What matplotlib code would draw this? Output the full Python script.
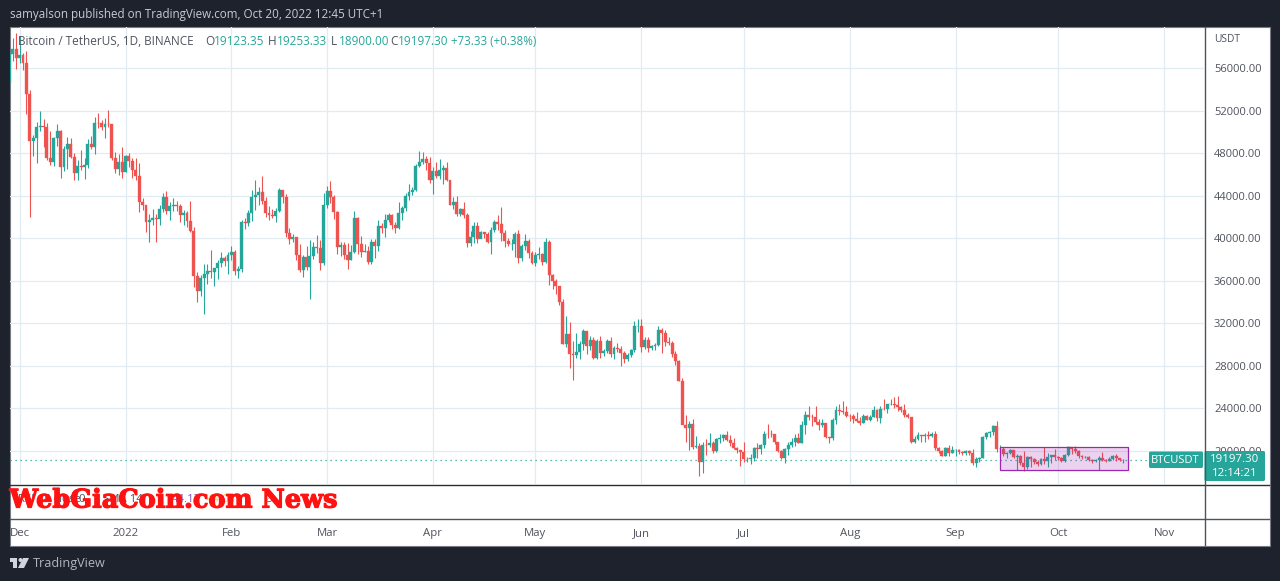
#!/usr/bin/env python3
import numpy as np
import pandas as pd
import matplotlib
matplotlib.use('Agg')
import matplotlib.pyplot as plt
import matplotlib.dates as mdates
import matplotlib.patheffects as pe
from matplotlib.patches import Rectangle, FancyBboxPatch, Polygon, Circle

# Daily candles, one line per month (Nov 28 2021 - Oct 20 2022)
first_open = 54706
closes = [57274, 57776, 56950,
    57184, 56480, 53601, 49152, 49396, 50441, 50588, 50471, 47545, 47140, 49389, 50053, 46702, 48343, 48864, 47632, 46131, 46834, 46681, 46914, 48890, 48588, 50838, 50821, 50429, 50775, 50701, 47543, 46464, 47120, 46216,
    47722, 47286, 46446, 45833, 43431, 43097, 41546, 41678, 41864, 41822, 42729, 43902, 42560, 43059, 43084, 43071, 42201, 42352, 41660, 40680, 36445, 35071, 36244, 36660, 36958, 36809, 37160, 37716, 38166, 37881, 38466,
    38744, 36952, 37154, 41500, 41441, 42406, 43854, 44096, 44388, 43514, 42380, 42217, 42053, 42535, 44544, 43873, 40515, 39974, 40079, 38386, 37008, 38230, 37250, 38328, 39219, 39116, 37699, 43160,
    44421, 43892, 42454, 39148, 39397, 38420, 37988, 38730, 41941, 39422, 38730, 38807, 37777, 39671, 39280, 41114, 40917, 41757, 42201, 41262, 41002, 42364, 42882, 43991, 44313, 44511, 46827, 47122, 47434, 47062, 45510,
    46283, 45811, 46407, 46580, 45497, 43170, 43444, 42252, 42753, 42158, 39530, 40074, 41147, 39942, 40551, 40378, 39678, 40801, 41493, 41358, 40480, 39709, 39441, 39450, 40426, 38112, 39235, 39742, 38596, 37630,
    38468, 38525, 37729, 39690, 36552, 36013, 35472, 34038, 30074, 31017, 29104, 29030, 29284, 30074, 31305, 29862, 30425, 28716, 30296, 29200, 29432, 30294, 29109, 29655, 29542, 29201, 28629, 29031, 29469, 31727, 31793,
    29799, 30467, 29704, 29864, 29919, 31373, 31125, 30205, 30110, 29091, 28424, 26574, 22487, 22136, 22583, 20401, 20468, 18970, 20574, 20573, 20723, 19987, 21110, 21237, 21491, 21038, 20742, 20281, 20123, 19942,
    19279, 19252, 19315, 20236, 20175, 20564, 21624, 21594, 21591, 20862, 19963, 19328, 20212, 20569, 20836, 21190, 20779, 22485, 23389, 23231, 23164, 22714, 22465, 22609, 21361, 21239, 22930, 23843, 23804, 23656, 23303,
    23268, 22987, 22818, 22622, 23312, 22954, 23175, 23810, 23149, 23954, 23934, 24403, 24441, 24305, 24094, 23854, 23342, 23191, 20834, 21140, 21515, 21399, 21529, 21368, 21559, 20241, 19987, 19547, 20285, 19811, 20049,
    20127, 19952, 19832, 19987, 19812, 18837, 19290, 19329, 21361, 21648, 21826, 22395, 20173, 20226, 19701, 19803, 20113, 19416, 19537, 18875, 18461, 19401, 19289, 18920, 18807, 19227, 19079, 19412, 19591, 19422,
    19310, 19056, 19623, 20336, 20160, 19955, 19531, 19417, 19439, 19131, 19060, 19155, 19375, 19176, 19068, 19268, 19549, 19327, 19123.35, 19197.30]
highs = [57445, 58865, 59249,
    59053, 57375, 57600, 53904, 49699, 50891, 51936, 51200, 50797, 50125, 49485, 50777, 50205, 48700, 49500, 49436, 48000, 47360, 48300, 47537, 49328, 49576, 51375, 51810, 51156, 51280, 52088, 50704, 48139, 47900, 48548,
    47827, 47990, 47570, 47505, 47070, 43748, 43145, 42300, 42786, 42248, 43100, 44278, 44400, 43448, 43800, 43475, 43176, 42691, 42575, 43505, 41100, 36835, 36500, 37550, 37545, 38919, 37234, 38000, 38720, 38359, 38744,
    39265, 38855, 37387, 41688, 41913, 42656, 44500, 45492, 44793, 45821, 43920, 43000, 42760, 42876, 44751, 44164, 44200, 40959, 40444, 40126, 39494, 38429, 39249, 39843, 39683, 40300, 39855, 44225,
    44949, 45400, 44100, 42527, 39693, 39680, 39547, 39362, 42594, 42039, 40236, 39486, 39310, 39947, 39887, 41718, 41478, 42325, 42400, 42296, 41544, 43361, 43025, 44220, 45094, 44820, 46999, 48189, 48096, 47700, 47600,
    46720, 47213, 47444, 46890, 47200, 45507, 43900, 43970, 42800, 43410, 42414, 40699, 41561, 41500, 40709, 40595, 40613, 41100, 41760, 42199, 42976, 40798, 39980, 39940, 40616, 40797, 39474, 40372, 39925, 38795,
    38675, 39167, 38651, 40023, 39845, 36677, 36146, 35500, 34243, 32658, 32162, 30343, 31083, 30343, 31460, 31308, 30788, 30700, 30545, 30777, 29588, 30487, 30670, 29827, 30158, 29880, 29396, 29256, 29547, 32222, 32399,
    32387, 30689, 30698, 29998, 30189, 31765, 31589, 31331, 30700, 30350, 29440, 28544, 26900, 23362, 22800, 22995, 21365, 20792, 20815, 21090, 21723, 20900, 21233, 21558, 21614, 21868, 21478, 21188, 20408, 20141,
    20879, 19425, 19681, 20354, 20750, 20675, 21838, 22527, 21954, 21597, 20862, 20059, 20259, 20880, 21200, 21600, 21689, 22777, 23800, 24276, 23442, 24196, 22990, 22998, 22666, 21347, 23100, 24199, 24442, 24668, 24194,
    23509, 23459, 23647, 23223, 23463, 23354, 23400, 24245, 23932, 24226, 24918, 24456, 24888, 25047, 25214, 24247, 24446, 23600, 23203, 21382, 21800, 21522, 21679, 21900, 21819, 21886, 20352, 20141, 20402, 20576, 20490,
    20208, 20188, 20000, 20055, 20055, 20179, 19464, 19458, 21450, 21792, 21860, 22488, 22799, 20543, 20330, 19900, 20173, 20100, 19690, 19634, 19957, 19500, 19500, 19310, 19180, 19318, 20385, 19790, 19645, 20180,
    19484, 19395, 19719, 20475, 20365, 20456, 20057, 19600, 19558, 19525, 19270, 19225, 19509, 19950, 19212, 19424, 19666, 19702, 19350, 19253.33]
lows = [53256, 56666, 55875,
    56458, 55777, 51680, 42000, 47727, 47100, 50039, 48600, 47320, 46852, 46751, 48638, 45672, 46290, 46547, 47511, 45456, 45500, 46406, 45558, 46630, 48421, 47920, 50384, 50171, 49412, 50459, 47313, 46096, 45900, 45678,
    46208, 46654, 45696, 45516, 42500, 42645, 40610, 39650, 41200, 39650, 41268, 42447, 42320, 41725, 42566, 42581, 41540, 41250, 41100, 40553, 35440, 34008, 34601, 32917, 35701, 36234, 35507, 36155, 37268, 37351, 36632,
    38000, 36586, 36250, 36800, 40843, 41116, 41645, 42666, 43117, 43228, 42000, 41748, 41870, 41570, 42428, 43307, 40073, 39450, 39639, 38000, 36800, 36350, 37036, 34322, 38014, 38600, 37000, 37450,
    42809, 43334, 41832, 38550, 38361, 38087, 37155, 38000, 38656, 38539, 38223, 38660, 37578, 37555, 38098, 38828, 40500, 40135, 41499, 40911, 40467, 40875, 41751, 42560, 43579, 44072, 44403, 46663, 46950, 46445, 45200,
    44200, 45620, 45530, 45118, 45353, 43121, 42727, 42107, 42125, 41868, 39200, 39254, 39588, 39551, 39991, 40013, 39546, 38536, 40571, 40820, 39751, 39177, 39285, 38929, 38200, 37702, 37881, 38881, 38175, 37578,
    37386, 38052, 37517, 37670, 35571, 35258, 34785, 33713, 30033, 29730, 27785, 26700, 28751, 28630, 29480, 29087, 29450, 28654, 28670, 28730, 28947, 29255, 28850, 28627, 29326, 28019, 28282, 28451, 28810, 29299, 31200,
    29299, 29594, 29282, 29451, 29485, 29890, 29218, 29843, 29944, 28850, 28099, 26560, 22600, 20846, 20111, 20232, 20246, 17622, 17960, 19637, 20348, 19770, 19890, 20740, 20906, 20950, 20510, 20204, 19848, 18626,
    18975, 18977, 18781, 19048, 19304, 19761, 20253, 21184, 21320, 20665, 19875, 19240, 18910, 19616, 20383, 20478, 20750, 20762, 21579, 22906, 22341, 22500, 21934, 22257, 21250, 20706, 21036, 22582, 23414, 23505, 23229,
    22850, 22654, 22681, 22400, 22586, 22920, 22841, 23151, 22865, 22664, 23852, 23578, 24291, 24024, 23773, 23671, 23180, 23080, 20783, 20761, 21060, 20890, 20890, 21145, 21310, 20112, 19800, 19520, 19550, 19540, 19800,
    19565, 19750, 19650, 19591, 19637, 18649, 18510, 19012, 19296, 21141, 21353, 21544, 19860, 19620, 19497, 19320, 19698, 19340, 18232, 18711, 18125, 18355, 18532, 18805, 18627, 18680, 18816, 18471, 18843, 19155,
    19160, 18920, 18960, 19510, 19730, 19853, 19320, 19255, 19320, 19020, 18860, 18965, 18190, 19075, 18975, 19064, 19156, 19095, 19070, 18900]

price_ticks = [20000, 24000, 28000, 32000, 36000, 40000, 44000, 48000, 52000, 56000]
month_ticks = ['2021-12-01', '2022-01-01', '2022-02-01', '2022-03-01', '2022-04-01', '2022-05-01',
               '2022-06-01', '2022-07-01', '2022-08-01', '2022-09-01', '2022-10-01', '2022-11-01']
month_labels = ['Dec', '2022', 'Feb', 'Mar', 'Apr', 'May', 'Jun', 'Jul', 'Aug', 'Sep', 'Oct', 'Nov']
box_dates = ['2022-09-14 00:00', '2022-10-21 08:00']
box_prices = [18260, 20420]

GREEN = '#26a69a'
RED = '#ef5350'
DARK = '#1e222d'
GRID = '#e1ecf2'
TXT = '#50535e'
W, H = 1280, 581
plt.rcParams['font.family'] = ['Open Sans', 'DejaVu Sans']

closes = np.array(closes, dtype=float)
highs = np.array(highs, dtype=float)
lows = np.array(lows, dtype=float)
opens = np.r_[first_open, closes[:-1]]
dates = mdates.date2num(pd.date_range('2021-11-28', periods=len(closes)))
up = closes >= opens


def px_axes(fig, x0, y0, x1, y1, **kw):
    # axes from pixel box, y counted from the top
    return fig.add_axes([x0 / W, 1 - y1 / H, (x1 - x0) / W, (y1 - y0) / H], **kw)


fig = plt.figure(figsize=(W / 100, H / 100), dpi=100, facecolor=DARK)

# back layer: white panel
back = px_axes(fig, 0, 0, W, H, zorder=0)
back.set_xlim(0, W)
back.set_ylim(H, 0)
back.axis('off')
back.add_patch(Rectangle((10, 27), 1259.5, 518.5, fc='white', ec='#787b86', lw=0.8))

# main pane
ax = px_axes(fig, 10, 27, 1204, 484, zorder=2)
ax.patch.set_alpha(0)
jan1 = mdates.date2num(pd.Timestamp('2022-01-01'))
ax.set_xlim(jan1 - 115.5 / 3.416, jan1 + 1078.5 / 3.416)
ax.set_ylim(16898, 59857)
ax.set_xticks(mdates.date2num(pd.to_datetime(month_ticks)))
ax.set_xticklabels(month_labels)
ax.set_yticks(price_ticks)
ax.set_yticklabels(['{:.2f}'.format(p) for p in price_ticks])
ax.yaxis.tick_right()
ax.tick_params(axis='y', length=0, pad=7.2, labelsize=8.0, labelcolor=TXT)
ax.tick_params(axis='x', length=0, pad=32, labelsize=8.2, labelcolor=TXT)
ax.grid(True, color=GRID, lw=0.9)
ax.set_axisbelow(True)
for s in ax.spines.values():
    s.set_visible(False)

ax.axhline(closes[-1], color=GREEN, ls=(0, (1, 3)), lw=0.9, zorder=1.5)
colors = np.where(up, GREEN, RED)
ax.vlines(dates, lows, highs, colors=colors, lw=0.8, zorder=2)
ax.bar(dates, np.abs(closes - opens), bottom=np.minimum(opens, closes), width=0.86,
       color=colors, edgecolor=colors, lw=0.25, zorder=3)

bx = mdates.date2num(pd.to_datetime(box_dates))
ax.add_patch(Rectangle((bx[0], box_prices[0]), bx[1] - bx[0], box_prices[1] - box_prices[0],
                       fc=(0.61, 0.15, 0.69, 0.2), ec='#9c27b0', lw=0.9, zorder=4))

# front layer: separators, tags, legend, watermark
top = px_axes(fig, 0, 0, W, H, zorder=5)
top.set_xlim(0, W)
top.set_ylim(H, 0)
top.axis('off')
top.patch.set_alpha(0)
top.plot([10, 1269], [484.5, 484.5], color='#2a2e39', lw=1)
top.plot([10, 1269], [518.5, 518.5], color='#50535e', lw=1)
top.plot([1204.5, 1204.5], [27, 545], color='#50535e', lw=1)

top.add_patch(FancyBboxPatch((1149, 451.5), 54, 16.5, boxstyle='round,pad=0,rounding_size=1.5', fc=GREEN, ec='none'))
top.add_patch(FancyBboxPatch((1204.5, 451), 60.5, 30, boxstyle='round,pad=0,rounding_size=1.5', fc=GREEN, ec='none'))
top.text(1175.5, 460.5, 'BTCUSDT', color='white', fontsize=8.0, ha='center', va='center')
top.text(1259, 460, '{:.2f}'.format(closes[-1]), color='white', fontsize=8.2, ha='right', va='center')
top.text(1258, 473, '12:14:21', color='white', fontsize=8.2, ha='right', va='center')
top.text(1214, 40, 'USDT', color=TXT, fontsize=7.4, va='center')

top.text(10, 14.5, 'samyalson published on TradingView.com, Oct 20, 2022 12:45 UTC+1', color='#c8cad2', fontsize=8.35, va='center')

top.text(18, 41.5, 'Bitcoin / TetherUS, 1D, BINANCE', color=TXT, fontsize=8.5, va='center')
for x0, lab, x1, val in [(205, 'O', 214, '19123.35'), (268, 'H', 277, '19253.33'),
                         (331, 'L', 339, '18900.00'), (390, 'C', 398, '19197.30')]:
    top.text(x0, 41.5, lab, color=TXT, fontsize=8.5, va='center')
    top.text(x1, 41.5, val, color=GREEN, fontsize=8.5, va='center')
top.text(451, 41.5, '+73.33 (+0.38%)', color=GREEN, fontsize=8.3, va='center')

# indicator legend, mostly hidden under the watermark
for x0, lab, col in [(18, 'RSI 14 close', TXT), (78, '0', TXT), (103, 'SMA 14', TXT),
                     (172, '44.17', '#7e57c2'), (207, '44.04', '#f5d742'), (263, '\u2205', TXT)]:
    top.text(x0, 499, lab, color=col, fontsize=8.2, va='center')

top.text(9.5, 500, 'WebGiaCoin.com News', color='#ff1212', fontsize=18.4, family='DejaVu Serif',
         weight='bold', va='center',
         path_effects=[pe.withStroke(linewidth=0.9, foreground='#ff1212')])

# TradingView logo and name
logo = '#d1d4dc'
top.add_patch(Polygon([(10, 558), (17, 558), (17, 568), (13, 568), (13, 562), (10, 562)], fc=logo, ec='none'))
top.add_patch(Circle((20.5, 560), 2, fc=logo, ec='none'))
top.add_patch(Polygon([(23, 558), (29, 558), (24, 568), (18, 568)], fc=logo, ec='none'))
top.text(33, 563.5, 'TradingView', color='#b2b5be', fontsize=9.1, va='center')

fig.savefig('out.png', dpi=100, facecolor=DARK)
